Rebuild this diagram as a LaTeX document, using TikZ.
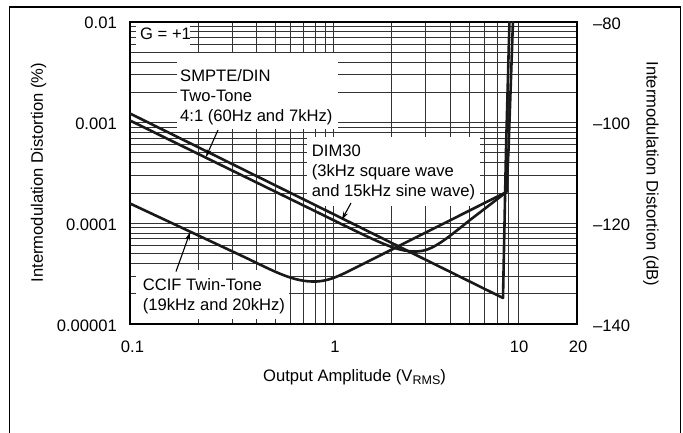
\documentclass[tikz,border=0pt]{standalone}
\usepackage{fontspec}
\setmainfont{Liberation Sans}
\usetikzlibrary{arrows.meta}
\begin{document}
\begin{tikzpicture}[x=1pt,y=-1pt,
  gridln/.style={black!80,line width=0.9pt},
  curve/.style={black!90,line width=2.6pt,line join=round},
  arr/.style={line width=1.1pt,-{Stealth[length=8pt,width=5pt]}},
  lbl/.style={inner sep=0pt,font=\fontsize{16.6}{20}\selectfont},
  outer/.style={line width=1.3pt}]
\useasboundingbox (0,0) rectangle (683,433);
% outer frame
\draw[outer] (9.3,433) -- (9.3,7) -- (680.7,7) -- (680.7,433);
% grid
\foreach \x in {198,232,256.7,275,290.7,303.3,315,325,333.3,391.7,425.7,450.5,469.3,484.3,497.3,508.3,518.3}
  \draw[gridln] (\x,22) -- (\x,324);
\foreach \b in {122.7,223.3,324}
  \foreach \m in {2,...,9}
    \draw[gridln] (130,{\b-100.7*log10(\m)}) -- (577,{\b-100.7*log10(\m)});
\foreach \y in {122.7,223.3}
  \draw[gridln] (130,\y) -- (577,\y);
% label backgrounds
\fill[white] (131.5,23) rectangle (190,47.5);
\fill[white] (177,53) rectangle (338,129.5);
\fill[white] (307,137) rectangle (480,206);
\fill[white] (131.5,269.5) rectangle (289,322.5);
% ticks
\foreach \b in {122.7,223.3,324}
  \foreach \m in {2,...,9}
    \draw[gridln] (130,{\b-100.7*log10(\m)}) -- (135.5,{\b-100.7*log10(\m)});
\foreach \x in {198,232,256.7,275,290.7,303.3,315,325,333.3,391.7,425.7,450.5,469.3,484.3,497.3,508.3,518.3}
  \draw[gridln] (\x,324) -- (\x,319);
% plot frame
\draw[line width=2pt] (130,22) rectangle (577,324);
% curves
\begin{scope}
\clip (130,22) rectangle (577,324);
\draw[curve] (130,113.5) -- (503,298) -- (506,150) -- (509.5,20);
\draw[curve] (130,120.5) -- (345,225.8) .. controls (385,245.4) and (400,252) .. (417,251.5)
  .. controls (432,251) and (445,240) .. (470,220) -- (506.5,192) -- (508.5,150) -- (513,20);
\draw[curve] (130,203.5) -- (240,255) .. controls (270,269) and (290,281) .. (312,281.5)
  .. controls (325,282) and (335,278) .. (350,270.5) -- (506.5,192);
\end{scope}
% labels
\node[lbl,anchor=base west] (gain) at (140,40) {G = +1};
\node[lbl,anchor=base west] (smpte) at (180,81.7)
  {\begin{tabular}[t]{@{}l@{}}SMPTE/DIN\\Two-Tone\\4:1 (60Hz and 7kHz)\end{tabular}};
\node[lbl,anchor=base west] (dim) at (311.7,157)
  {\begin{tabular}[t]{@{}l@{}}DIM30\\(3kHz square wave\\and 15kHz sine wave)\end{tabular}};
\node[lbl,anchor=base west] (ccif) at (142.7,290)
  {\begin{tabular}[t]{@{}l@{}}CCIF Twin-Tone\\(19kHz and 20kHz)\end{tabular}};
% arrows
\coordinate (smpteTail) at (218,130);
\coordinate (smpteTip) at (206,157);
\coordinate (dimTail) at (351,203);
\coordinate (dimTip) at (342,219.5);
\coordinate (ccifTail) at (176,271.5);
\coordinate (ccifTip) at (190,232.5);
\draw[arr] (smpteTail) -- (smpteTip);
\draw[arr] (dimTail) -- (dimTip);
\draw[arr] (ccifTail) -- (ccifTip);
% y tick labels left
\node[lbl,anchor=base east] (yl1) at (117,28.3) {0.01};
\node[lbl,anchor=base east] (yl2) at (117,130) {0.001};
\node[lbl,anchor=base east] (yl3) at (117,230.7) {0.0001};
\node[lbl,anchor=base east] (yl4) at (117,331) {0.00001};
% y tick labels right
\node[lbl,anchor=base west] (yr1) at (593,29.3) {–80};
\node[lbl,anchor=base west] (yr2) at (593,130) {–100};
\node[lbl,anchor=base west] (yr3) at (593,230.7) {–120};
\node[lbl,anchor=base west] (yr4) at (593,331) {–140};
% x tick labels
\node[lbl,anchor=base] (xl1) at (132.5,352.7) {0.1};
\node[lbl,anchor=base] (xl2) at (335,352.7) {1};
\node[lbl,anchor=base] (xl3) at (519,352.7) {10};
\node[lbl,anchor=base] (xl4) at (578,352.7) {20};
% axis titles
\node[lbl,rotate=90] (ytitle) at (38.5,172.5) {Intermodulation Distortion (\%)};
\node[lbl,rotate=-90] (ytitle2) at (651,174) {Intermodulation Distortion (dB)};
\node[lbl,anchor=base] (xtitle) at (354.5,381) {Output Amplitude (V\raisebox{-3.5pt}{\fontsize{12.5}{12.5}\selectfont RMS})};
\end{tikzpicture}
\end{document}
